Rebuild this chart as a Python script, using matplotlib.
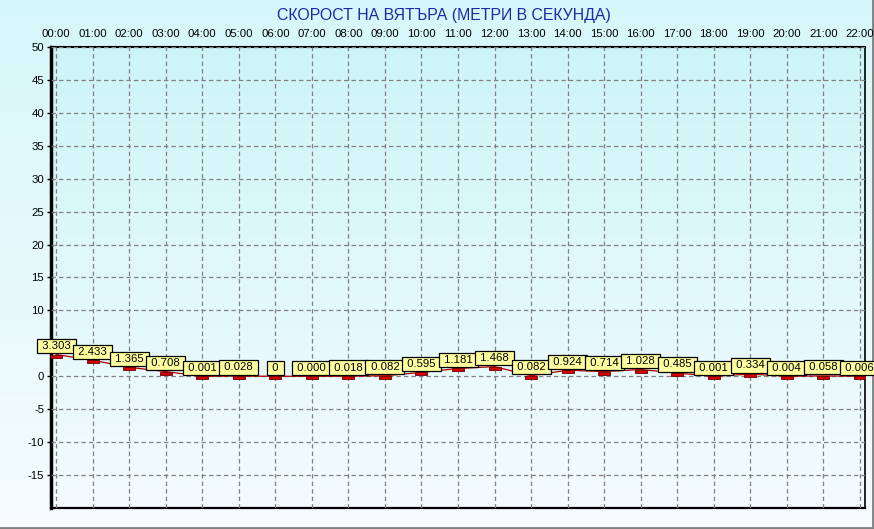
import numpy as np
import matplotlib
matplotlib.use("Agg")
import matplotlib.pyplot as plt
from matplotlib.path import Path

hours = ["00:00", "01:00", "02:00", "03:00", "04:00", "05:00", "06:00", "07:00",
         "08:00", "09:00", "10:00", "11:00", "12:00", "13:00", "14:00", "15:00",
         "16:00", "17:00", "18:00", "19:00", "20:00", "21:00", "22:00"]
wind = [3.303, 2.433, 1.365, 0.708, 0.001, 0.028, 0.0, 0.000, 0.018, 0.082,
        0.595, 1.181, 1.468, 0.082, 0.924, 0.714, 1.028, 0.485, 0.001, 0.334,
        0.004, 0.058, 0.006]
labels = ["3.303", "2.433", "1.365", "0.708", "0.001", "0.028", "0", "0.000",
          "0.018", "0.082", "0.595", "1.181", "1.468", "0.082", "0.924", "0.714",
          "1.028", "0.485", "0.001", "0.334", "0.004", "0.058", "0.006"]
yticks = [-15, -10, -5, 0, 10, 15, 20, 25, 30, 35, 40, 45, 50]

plt.rcParams['font.family'] = ['Liberation Sans', 'DejaVu Sans']

fig = plt.figure(figsize=(8.74, 5.29), dpi=100)

# figure background gradient
bg = fig.add_axes([0, 0, 1, 1], zorder=-10)
grad = np.linspace(0, 1, 256).reshape(-1, 1)
top_c = np.array([214, 247, 250]) / 255
bot_c = np.array([246, 252, 253]) / 255
img = top_c * (1 - grad[..., None]) + bot_c * grad[..., None]
bg.imshow(img, aspect='auto', extent=[0, 1, 0, 1])
bg.axis('off')
# grey frame on right and bottom
bg.plot([0, 0.9985, 0.9985], [0.0015, 0.0015, 1], color='#808080', lw=2,
        transform=bg.transAxes, clip_on=False)

ax = fig.add_axes([0.0584, 0.0397, 0.9313, 0.8715])
x = np.arange(len(hours))
ax.set_xlim(-0.14, 22.14)
ax.set_ylim(-20, 50)

# plot area gradient
ptop = np.array([205, 245, 248]) / 255
pbot = np.array([244, 251, 254]) / 255
pimg = ptop * (1 - grad[..., None]) + pbot * grad[..., None]
ax.imshow(pimg, aspect='auto', extent=[-0.14, 22.14, -20, 50], zorder=0)

ax.set_xticks(x)
ax.set_xticklabels(hours)
ax.set_yticks(yticks)
ax.set_yticklabels([str(v) for v in yticks])
ax.xaxis.tick_top()
ax.tick_params(axis='x', length=0, pad=6, labelsize=8.2)
ax.tick_params(axis='y', length=3, pad=2, labelsize=8.2, width=1)
ax.grid(True, color='#808080', linestyle=(0, (3.5, 2.5)), linewidth=0.9, zorder=1)
ax.set_axisbelow(False)

for s in ['left', 'bottom', 'right']:
    ax.spines[s].set_color('black')
ax.spines['left'].set_linewidth(2.5)
ax.spines['bottom'].set_linewidth(1.6)
ax.spines['right'].set_linewidth(1.2)
ax.spines['top'].set_linewidth(1.5)
ax.spines['top'].set_linestyle((0, (3, 1)))

ax.plot(x, wind, color='#b00000', lw=0.9, zorder=3)

rect = Path([(-1, 0), (1, 0), (1, -0.5), (-1, -0.5), (-1, 0)],
            [Path.MOVETO, Path.LINETO, Path.LINETO, Path.LINETO, Path.CLOSEPOLY])
ax.plot(x, wind, linestyle='none', marker=rect, markersize=8.5,
        markerfacecolor='#d40000', markeredgecolor='#700000', markeredgewidth=0.6,
        zorder=4)

for xi, v, lab in zip(x, wind, labels):
    ax.annotate(" " + lab + " ", (xi, v), xytext=(0, 2.6), textcoords='offset points',
                ha='center', va='bottom', fontsize=8.2, zorder=5,
                bbox=dict(boxstyle='square,pad=0.18', facecolor='#ffffa0',
                          edgecolor='black', linewidth=0.9))

fig.text(0.508, 0.971, "СКОРОСТ НА ВЯТЪРА (МЕТРИ В СЕКУНДА)", ha='center', va='center',
         fontsize=11.4, color='#1c2aa8')

fig.savefig("out.png", dpi=100)
